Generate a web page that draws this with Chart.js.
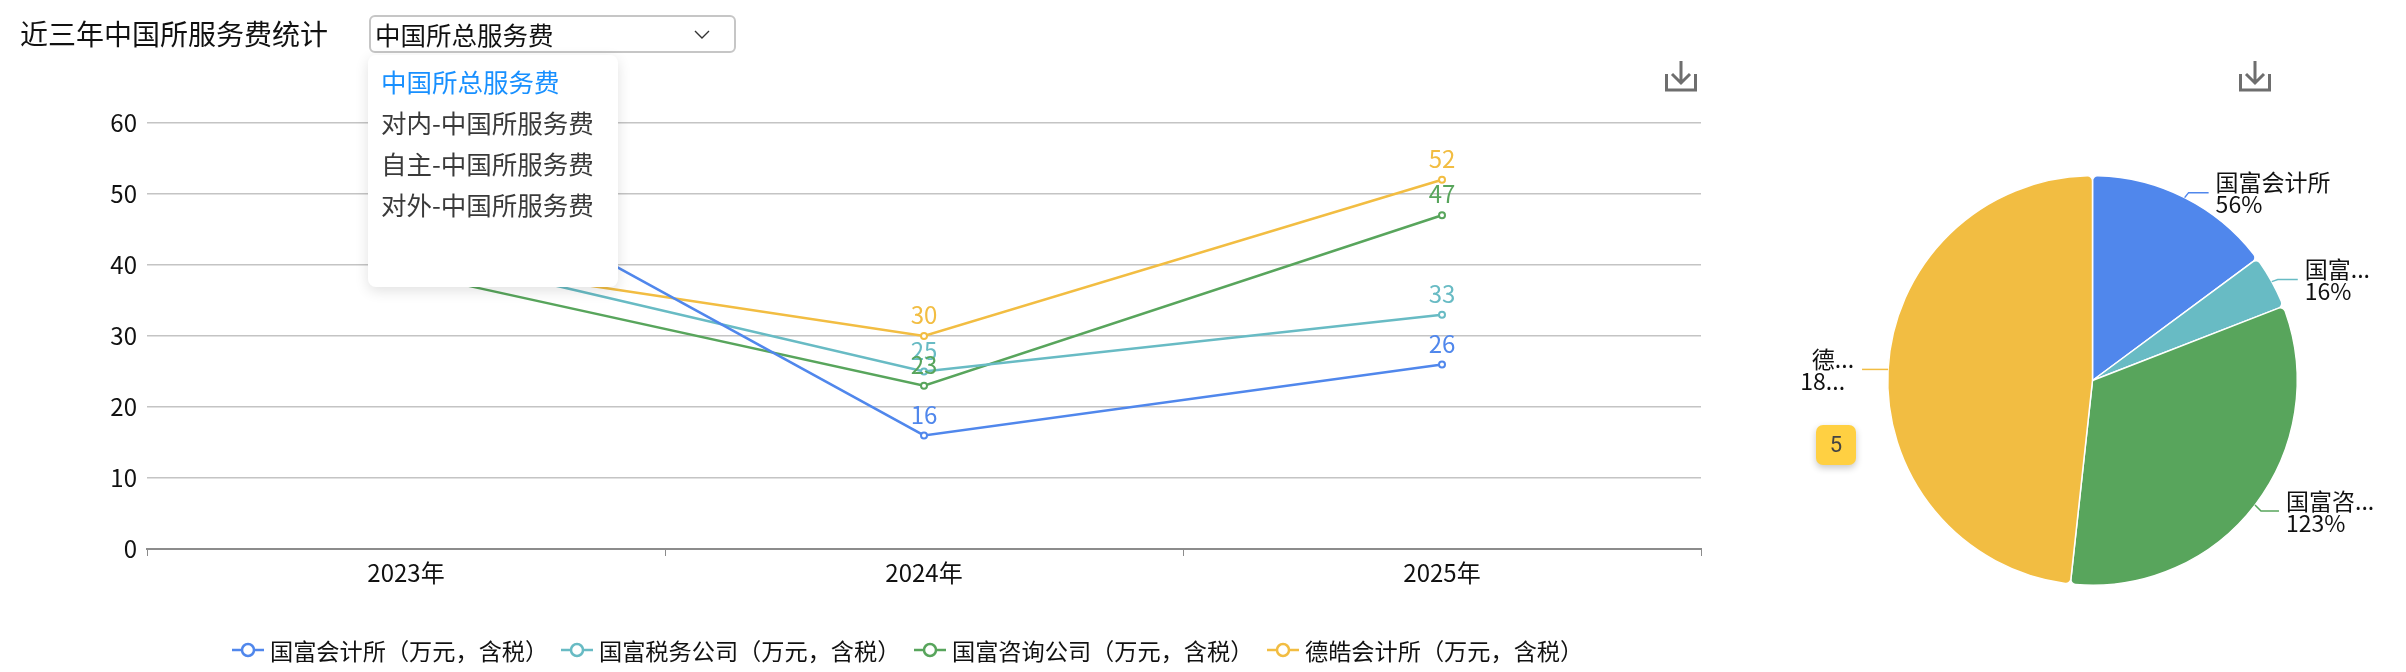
<!DOCTYPE html>
<html lang="zh">
<head>
<meta charset="utf-8">
<script src="https://cdn.jsdelivr.net/npm/chart.js@4/dist/chart.umd.min.js"></script>
<style>
  html, body { margin: 0; padding: 0; background: #fff; }
  body { position: relative; width: 2406px; height: 672px; overflow: hidden; font-family: "Noto Sans CJK SC", sans-serif; color: #111; }
  canvas { position: absolute; top: 0; }
  #chart-line { left: 0; }
  #chart-pie { left: 1750px; }
  .title { position: absolute; left: 20px; top: 14px; font-size: 28px; line-height: 38px; white-space: nowrap; }
  .select { position: absolute; left: 369px; top: 15px; width: 367px; height: 38px; box-sizing: border-box; border: 2px solid #c6c6c6; border-radius: 6px; font-size: 25.5px; line-height: 34px; padding-left: 4px; white-space: nowrap; }
  .select svg { position: absolute; left: 322px; top: 13px; }
  .menu { position: absolute; left: 368px; top: 55px; width: 250px; height: 232px; background: #fff; border-radius: 8px; box-shadow: 0 4px 14px rgba(0,0,0,.12); font-size: 25.5px; color: #3a3a3a; }
  .menu div { position: absolute; left: 13px; line-height: 36px; white-space: nowrap; }
  .menu div.on { color: #1890ff; }
  .dl { position: absolute; top: 60px; }
  .legend { position: absolute; top: 630px; left: 0; height: 40px; font-size: 23.2px; line-height: 40px; }
  .legend span { position: absolute; top: 0; white-space: nowrap; }
  .legend svg { position: absolute; top: 12px; }
  .badge { position: absolute; left: 1816px; top: 425px; width: 40px; height: 40px; border-radius: 7px; background: #ffd042; box-shadow: 0 3px 7px rgba(0,0,0,.22); text-align: center; line-height: 40px; font-size: 22px; color: #444; font-family: Roboto, sans-serif; }
</style>
</head>
<body>
<canvas id="chart-line" width="1750" height="672"></canvas>
<canvas id="chart-pie" width="656" height="672"></canvas>

<div class="title">近三年中国所服务费统计</div>
<div class="select">中国所总服务费
  <svg width="18" height="10" viewBox="0 0 18 10"><path d="M2 1l7 7 7-7" fill="none" stroke="#333" stroke-width="1.4"/></svg>
</div>
<div class="menu" id="menu"></div>
<div class="legend" id="legend"></div>
<div class="badge">5</div>
<svg class="dl" style="left:1665px" width="32" height="32" viewBox="0 0 32 32"><path d="M16 1v21M7 14l9 9 9-9M1.500 14v16h29V14" fill="none" stroke="#6e6e6e" stroke-width="3"/></svg>
<svg class="dl" style="left:2239px" width="32" height="32" viewBox="0 0 32 32"><path d="M16 1v21M7 14l9 9 9-9M1.500 14v16h29V14" fill="none" stroke="#6e6e6e" stroke-width="3"/></svg>

<script>
const years = ['2023年', '2024年', '2025年'];
const seriesNames = ['国富会计所（万元，含税）', '国富税务公司（万元，含税）', '国富咨询公司（万元，含税）', '德皓会计所（万元，含税）'];
const guofuKuaiji = [56, 16, 26];
const guofuShuiwu = [42, 25, 33];
const guofuZixun = [39, 23, 47];
const dehao = [41, 30, 52];
const yTicks = [0, 10, 20, 30, 40, 50, 60];

const pieValues = [56, 16, 123, 182];
const pieNames = ['国富会计所', '国富...', '国富咨...', '德...'];
const pieRates = ['56%', '16%', '123%', '18...'];

const menuItems = ['中国所总服务费', '对内-中国所服务费', '自主-中国所服务费', '对外-中国所服务费'];

const C_BLUE = '#5087ec';
const C_TEAL = '#68bbc4';
const C_GREEN = '#58a55c';
const C_YELLOW = '#f2bd42';
const COLORS = [C_BLUE, C_TEAL, C_GREEN, C_YELLOW];
const FONT = '"Noto Sans CJK SC", sans-serif';
const TICK = '#111';
const GRID = '#c4c4c4';

// labels above each point, same colour as the line
const pointLabels = {
  id: 'pointLabels',
  afterDatasetsDraw(chart) {
    const ctx = chart.ctx;
    ctx.save();
    ctx.font = '24px ' + FONT;
    ctx.textAlign = 'center';
    ctx.textBaseline = 'middle';
    chart.data.datasets.forEach((ds, i) => {
      chart.getDatasetMeta(i).data.forEach((pt, j) => {
        ctx.fillStyle = ds.borderColor;
        ctx.fillText(ds.data[j], pt.x, pt.y - 21);
      });
    });
    ctx.restore();
  }
};

new Chart(document.getElementById('chart-line'), {
  type: 'line',
  data: {
    labels: years,
    datasets: [guofuKuaiji, guofuShuiwu, guofuZixun, dehao].map((d, i) => ({
      label: seriesNames[i],
      data: d,
      borderColor: COLORS[i],
      backgroundColor: '#fff',
      borderWidth: 2.5,
      tension: 0,
      pointRadius: 3,
      pointBorderWidth: 2,
      pointBackgroundColor: '#fff'
    }))
  },
  options: {
    responsive: false,
    animation: false,
    layout: { padding: { top: 123, right: 49 } },
    plugins: { legend: { display: false }, tooltip: { enabled: false } },
    scales: {
      x: {
        offset: true,
        afterFit: (s) => { s.height = 123; },
        border: { color: '#8c8c8c', width: 2 },
        grid: { offset: true, drawOnChartArea: false, drawTicks: true, tickLength: 7, color: '#8c8c8c' },
        ticks: { color: TICK, font: { family: FONT, size: 24 }, padding: 2, maxRotation: 0 }
      },
      y: {
        min: 0,
        max: 60,
        afterFit: (s) => { s.width = 147; },
        afterBuildTicks: (s) => { s.ticks = yTicks.map((v) => ({ value: v })); },
        border: { display: false },
        grid: { color: GRID, lineWidth: 1.5, drawTicks: false },
        ticks: { color: TICK, font: { family: FONT, size: 24 }, padding: 10 }
      }
    }
  },
  plugins: [pointLabels]
});

// outside labels with an elbow leader, anchored on each slice's middle angle
const pieLabels = {
  id: 'pieLabels',
  afterDraw(chart) {
    const ctx = chart.ctx;
    const elbows = [[4, -5, 20], [6, -2, 20], [6, 6, 18], [0, 0, 26]];
    ctx.save();
    ctx.font = '23px ' + FONT;
    ctx.textBaseline = 'middle';
    chart.getDatasetMeta(0).data.forEach((arc, i) => {
      const mid = (arc.startAngle + arc.endAngle) / 2;
      const ax = arc.x + arc.outerRadius * Math.cos(mid);
      const ay = arc.y + arc.outerRadius * Math.sin(mid);
      const right = ax > arc.x;
      const dir = right ? 1 : -1;
      const ex = ax + dir * elbows[i][0];
      const ey = ay + elbows[i][1];
      const end = ex + dir * elbows[i][2];
      ctx.strokeStyle = COLORS[i];
      ctx.lineWidth = 1.5;
      ctx.beginPath();
      ctx.moveTo(ax, ay);
      ctx.lineTo(ex, ey);
      ctx.lineTo(end, ey);
      ctx.stroke();
      ctx.fillStyle = '#111';
      if (right) {
        ctx.textAlign = 'left';
        ctx.fillText(pieNames[i], end + 7, ey - 10);
        ctx.fillText(pieRates[i], end + 7, ey + 12);
      } else {
        ctx.textAlign = 'right';
        ctx.fillText(pieNames[i], end - 8, ey - 10);
        ctx.fillText(pieRates[i], end - 17, ey + 12);
      }
    });
    ctx.restore();
  }
};

new Chart(document.getElementById('chart-pie'), {
  type: 'pie',
  data: {
    labels: pieNames,
    datasets: [{ data: pieValues, backgroundColor: COLORS, borderColor: '#fff', borderWidth: 1.5, borderRadius: 5 }]
  },
  options: {
    responsive: false,
    animation: false,
    layout: { padding: { left: 137, right: 108, top: 175, bottom: 86 } },
    plugins: { legend: { display: false }, tooltip: { enabled: false } }
  },
  plugins: [pieLabels]
});

document.getElementById('menu').innerHTML = menuItems.map((m, i) =>
  `<div class="${i === 0 ? 'on' : ''}" style="top:${8 + i * 41}px">${m}</div>`).join('');

const legendX = [232, 561, 914, 1267];
document.getElementById('legend').innerHTML = seriesNames.map((n, i) => `
  <svg style="left:${legendX[i]}px" width="32" height="16" viewBox="0 0 32 16"><path d="M0 8h32" stroke="${COLORS[i]}" stroke-width="2.500"/><circle cx="16" cy="8" r="6" fill="#fff" stroke="${COLORS[i]}" stroke-width="2.500"/></svg>
  <span style="left:${legendX[i] + 38}px">${n}</span>`).join('');
</script>
</body>
</html>
